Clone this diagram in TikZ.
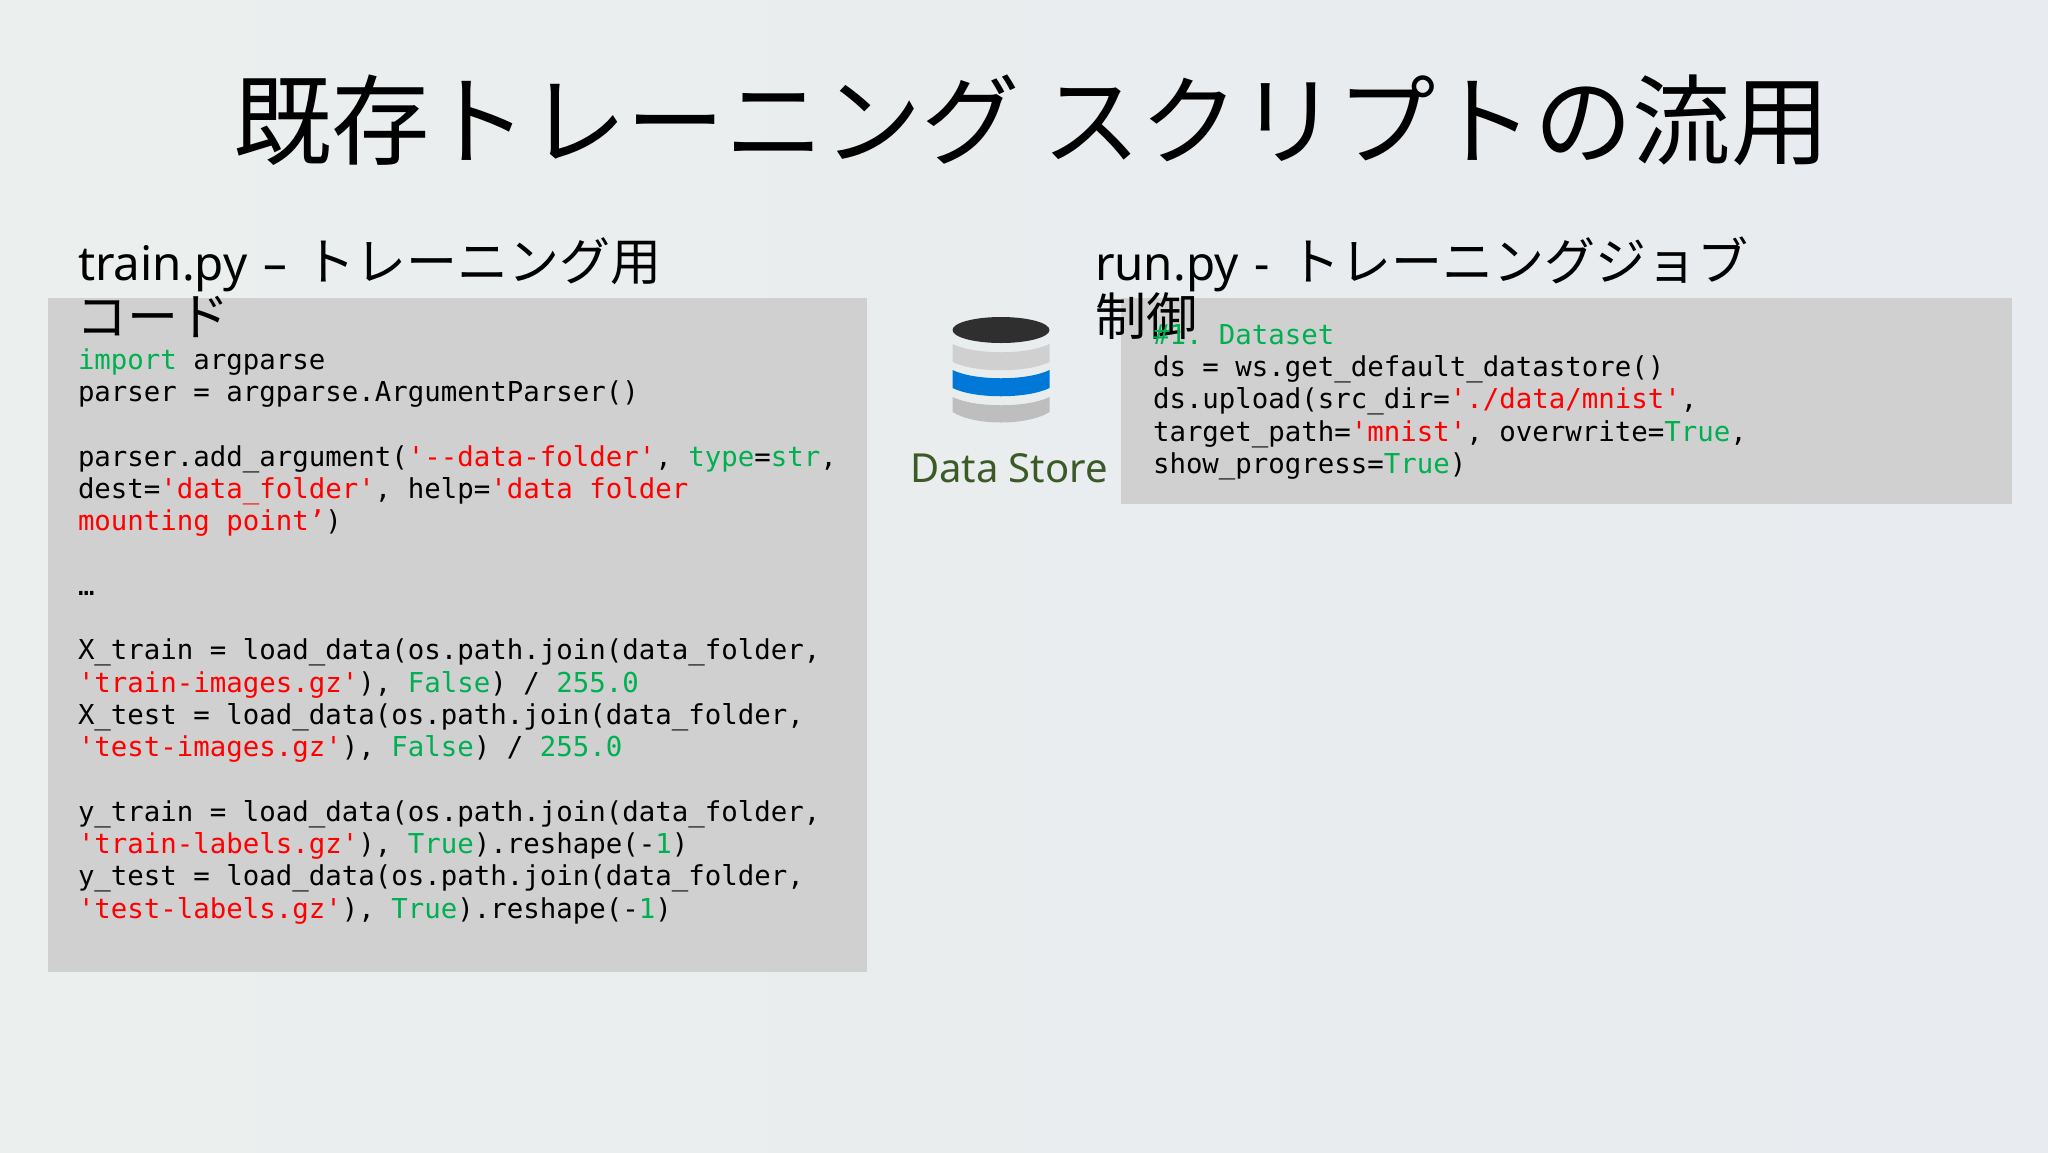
\documentclass[tikz,border=0pt]{standalone}
\usepackage{fontspec}
\usetikzlibrary{calc}
\setmainfont{Noto Sans}
\newfontfamily\cjkfont{Noto Sans CJK JP}
\newfontfamily\codefont{DejaVu Sans Mono}
\definecolor{bgA}{HTML}{EBEFEE}
\definecolor{bgB}{HTML}{E8EBEF}
\definecolor{panel}{HTML}{D0D0D1}
\definecolor{codegreen}{HTML}{00B050}
\definecolor{codered}{HTML}{FF0000}
\definecolor{storegreen}{HTML}{3B5A27}
\definecolor{dbdark}{HTML}{2F2F2F}
\definecolor{dbgray}{HTML}{D0D0D0}
\definecolor{dbblue}{HTML}{0078D7}
\definecolor{dbgrayb}{HTML}{BEBEBE}
\newcommand\gr[1]{\textcolor{codegreen}{#1}}
\newcommand\rd[1]{\textcolor{codered}{#1}}
\newcommand\cj[1]{{\cjkfont\fontsize{51}{51}\selectfont #1}}
\tikzset{
  x=1pt,y=-1pt,
  txt/.style={anchor=base west,inner sep=0pt,outer sep=0pt},
  codeline/.style={txt,font=\codefont\fontsize{27.4}{32}\selectfont\frenchspacing,text=black},
  heading/.style={txt,font=\fontsize{47.5}{50}\selectfont,text=black},
  titletext/.style={txt,font=\cjkfont\fontsize{98.4}{100}\selectfont,text=black},
  panelbox/.style={fill=panel,draw=none},
  band/.style={draw=none}
}
\begin{document}
\begin{tikzpicture}
\useasboundingbox (0,0) rectangle (2048,1152);
\shade[left color=bgA,right color=bgB] (0,0) rectangle (2048,1152);
\fill[panel] (48,298) rectangle (867,972);
\fill[panel] (1121,298) rectangle (2012,504);

\node[titletext] (title) at (233,157) {既存トレーニング スクリプトの流用};

\node[heading] (h1a) at (78,280) {train.py\hspace{4pt} –\hspace{5pt} \cj{トレーニング用}};
\node[heading] (h1b) at (76,335) {\cj{コード}};
\node[heading] (h2a) at (1095,280) {run.py\hspace{4pt} -\hspace{7pt} \cj{トレーニングジョブ}};
\node[heading] (h2b) at (1095,335) {\cj{制御}};

\node[codeline] (a0) at (78,369) {\gr{import} argparse};
\node[codeline] (a1) at (78,401.3) {parser = argparse.ArgumentParser()};
\node[codeline] (a3) at (78,466) {parser.add\_argument(\rd{'--data-folder'}, \gr{type}=\gr{str},};
\node[codeline] (a4) at (78,498.2) {dest=\rd{'data\_folder'}, help=\rd{'data folder}};
\node[codeline] (a5) at (78,530.5) {\rd{mounting point’})};
\node[codeline] (a7) at (78,595) {…};
\node[codeline] (a9) at (78,659.7) {X\_train = load\_data(os.path.join(data\_folder,};
\node[codeline] (a10) at (78,692) {\rd{'train-images.gz'}), \gr{False}) / \gr{255.0}};
\node[codeline] (a11) at (78,724.3) {X\_test = load\_data(os.path.join(data\_folder,};
\node[codeline] (a12) at (78,756.6) {\rd{'test-images.gz'}), \gr{False}) / \gr{255.0}};
\node[codeline] (a14) at (78,821.2) {y\_train = load\_data(os.path.join(data\_folder,};
\node[codeline] (a15) at (78,853.5) {\rd{'train-labels.gz'}), \gr{True}).reshape(-\gr{1})};
\node[codeline] (a16) at (78,885.8) {y\_test = load\_data(os.path.join(data\_folder,};
\node[codeline] (a17) at (78,918.1) {\rd{'test-labels.gz'}), \gr{True}).reshape(-\gr{1})};

\node[codeline] (b0) at (1153,344.5) {\gr{\#1. Dataset}};
\node[codeline] (b1) at (1153,376.5) {ds = ws.get\_default\_datastore()};
\node[codeline] (b2) at (1153,408.8) {ds.upload(src\_dir=\rd{'./data/mnist'},};
\node[codeline] (b3) at (1153,441.1) {target\_path=\rd{'mnist'}, overwrite=\gr{True},};
\node[codeline] (b4) at (1153,473.5) {show\_progress=\gr{True})};

% data store icon
\fill[dbdark] (1001,330) ellipse [x radius=48.5,y radius=13];
\fill[dbgray,band] (952.5,344) .. controls (975,355) and (1027,355) .. (1049.5,344) -- (1049.5,362) .. controls (1027,373) and (975,373) .. (952.5,362) -- cycle;
\fill[dbblue,band] (952.5,370) .. controls (975,381) and (1027,381) .. (1049.5,370) -- (1049.5,388) .. controls (1027,399) and (975,399) .. (952.5,388) -- cycle;
\fill[dbgrayb,band] (952.5,397) .. controls (975,408) and (1027,408) .. (1049.5,397) -- (1049.5,412) .. controls (1027,426) and (975,426) .. (952.5,412) -- cycle;

\node[txt,font=\fontsize{40}{44}\selectfont,text=storegreen] (store) at (910,482) {Data Store};
\end{tikzpicture}
\end{document}
